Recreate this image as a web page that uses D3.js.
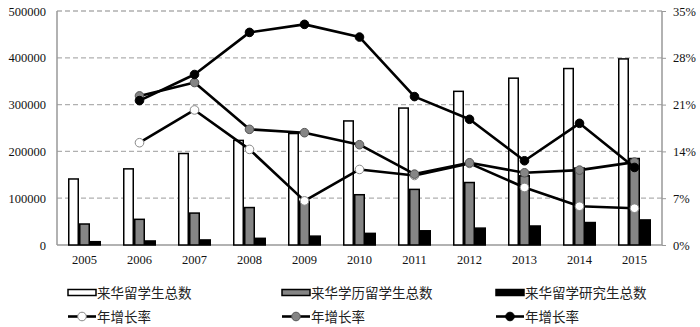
<!DOCTYPE html>
<html><head><meta charset="utf-8">
<script src="https://cdn.jsdelivr.net/npm/d3@7"></script>
<style>body{margin:0;background:#fff}svg{display:block}</style>
</head><body><svg id="c" width="700" height="327"></svg>
<script>
const years = ["2005","2006","2007","2008","2009","2010","2011","2012","2013","2014","2015"];
const totalStudents = [141087,162695,195503,223499,238184,265090,292611,328330,356499,377054,397635];
const degreeStudents = [44851,54859,68213,80005,93450,107432,118837,133509,147890,164394,184799];
const graduateStudents = [7084,8614,10811,14249,18951,24845,30360,36068,40613,48004,53572];
const totalRate = [null,15.3,20.2,14.3,6.6,11.3,10.4,12.2,8.6,5.8,5.5];
const degreeRate = [null,22.3,24.3,17.3,16.8,15.0,10.6,12.3,10.8,11.2,12.4];
const graduateRate = [null,21.6,25.5,31.8,33.0,31.1,22.2,18.8,12.6,18.2,11.6];
const leftTicks = [0,100000,200000,300000,400000,500000];
const rightTicks = [0,7,14,21,28,35];
const barNames = ["来华留学生总数","来华学历留学生总数","来华留学研究生总数"];
const lineNames = ["年增长率","年增长率","年增长率"];

const svg = d3.select("#c");
const L = 57, R = 662, T = 11, B = 245;
const x = d3.scaleBand().domain(years).range([L, R]).padding(0);
const xs = d3.scaleBand().domain([0,1,2]).range([0, x.bandwidth()]).paddingInner(0).paddingOuter(1);
const y = d3.scaleLinear().domain([0,500000]).range([B, T]);
const y2 = d3.scaleLinear().domain([0,35]).range([B, T]);
const serif = "'Liberation Serif','Times New Roman',serif";
const cjk = "'Noto Sans CJK SC',sans-serif";

// grid
svg.append("g").selectAll("line").data(leftTicks.filter(d=>d>0)).join("line")
  .attr("x1", L).attr("x2", R).attr("y1", d=>y(d)).attr("y2", d=>y(d))
  .attr("stroke", "#b0b0b0").attr("stroke-width", 1.3).attr("stroke-dasharray", "5,3");

// axes
const gl = svg.append("g").attr("transform", `translate(${L},0)`)
  .call(d3.axisLeft(y).tickValues(leftTicks).tickSize(0).tickPadding(11).tickFormat(d3.format("d")));
const gr = svg.append("g").attr("transform", `translate(${R},0)`)
  .call(d3.axisRight(y2).tickValues(rightTicks).tickSize(4).tickPadding(7).tickFormat(d=>d+"%"));
const gb = svg.append("g").attr("transform", `translate(0,${B})`)
  .call(d3.axisBottom(x).tickSize(0).tickPadding(10));
[gl,gr,gb].forEach(g=>{
  g.select(".domain").attr("stroke","#999").attr("stroke-width",1.5);
  g.selectAll(".tick line").attr("stroke","#999");
  g.selectAll("text").attr("font-family", serif).attr("font-size", 12.5).attr("fill","#111");
});
gb.select(".domain").attr("d", `M${L},0H${R}`);
gl.select(".domain").attr("d", `M0,${T}V${B}`);
gr.select(".domain").attr("d", `M0,${T}V${B}`);

// bars
const barSeries = [totalStudents, degreeStudents, graduateStudents];
const barFill = ["#ffffff","#858585","#000000"];
barSeries.forEach((vals, si) => {
  svg.append("g").selectAll("rect").data(vals).join("rect")
    .attr("x", (d,i)=> x(years[i]) + xs(si) + 0.75)
    .attr("width", xs.bandwidth() - 1.5)
    .attr("y", d=> y(d))
    .attr("height", d=> B - y(d))
    .attr("fill", barFill[si]).attr("stroke", "#000").attr("stroke-width", 1.5);
});

// lines
const lineSeries = [totalRate, degreeRate, graduateRate];
const markFill = ["#ffffff","#858585","#000000"];
const markStroke = ["#888","#555","#000"];
const line = d3.line().defined(d=>d.v!=null).x(d=>x(d.k)+x.bandwidth()/2).y(d=>y2(d.v));
lineSeries.forEach((vals, si) => {
  const data = vals.map((v,i)=>({k:years[i], v}));
  svg.append("path").datum(data).attr("d", line).attr("fill","none")
    .attr("stroke","#000").attr("stroke-width",2.6).attr("stroke-linejoin","round");
  svg.append("g").selectAll("circle").data(data.filter(d=>d.v!=null)).join("circle")
    .attr("cx", d=>x(d.k)+x.bandwidth()/2).attr("cy", d=>y2(d.v)).attr("r", 4.3)
    .attr("fill", markFill[si]).attr("stroke", markStroke[si]).attr("stroke-width", 1);
});

// legend
const legX = [68, 282, 496];
const lg = svg.append("g");
barNames.forEach((n,i)=>{
  lg.append("rect").attr("x", legX[i]).attr("y", 289.5).attr("width", 28).attr("height", 6)
    .attr("fill", barFill[i]).attr("stroke","#000").attr("stroke-width",1.5);
  lg.append("text").attr("x", legX[i]+29).attr("y", 297.5).text(n)
    .attr("font-family", cjk).attr("font-size", 13.5).attr("fill","#222");
});
lineNames.forEach((n,i)=>{
  lg.append("line").attr("x1", legX[i]).attr("x2", legX[i]+28).attr("y1", 316.5).attr("y2", 316.5)
    .attr("stroke","#000").attr("stroke-width",2.6);
  lg.append("circle").attr("cx", legX[i]+14).attr("cy", 316.5).attr("r", 4.3)
    .attr("fill", markFill[i]).attr("stroke", markStroke[i]).attr("stroke-width",1);
  lg.append("text").attr("x", legX[i]+29).attr("y", 321.5).text(n)
    .attr("font-family", cjk).attr("font-size", 13.5).attr("fill","#222");
});
</script></body></html>
